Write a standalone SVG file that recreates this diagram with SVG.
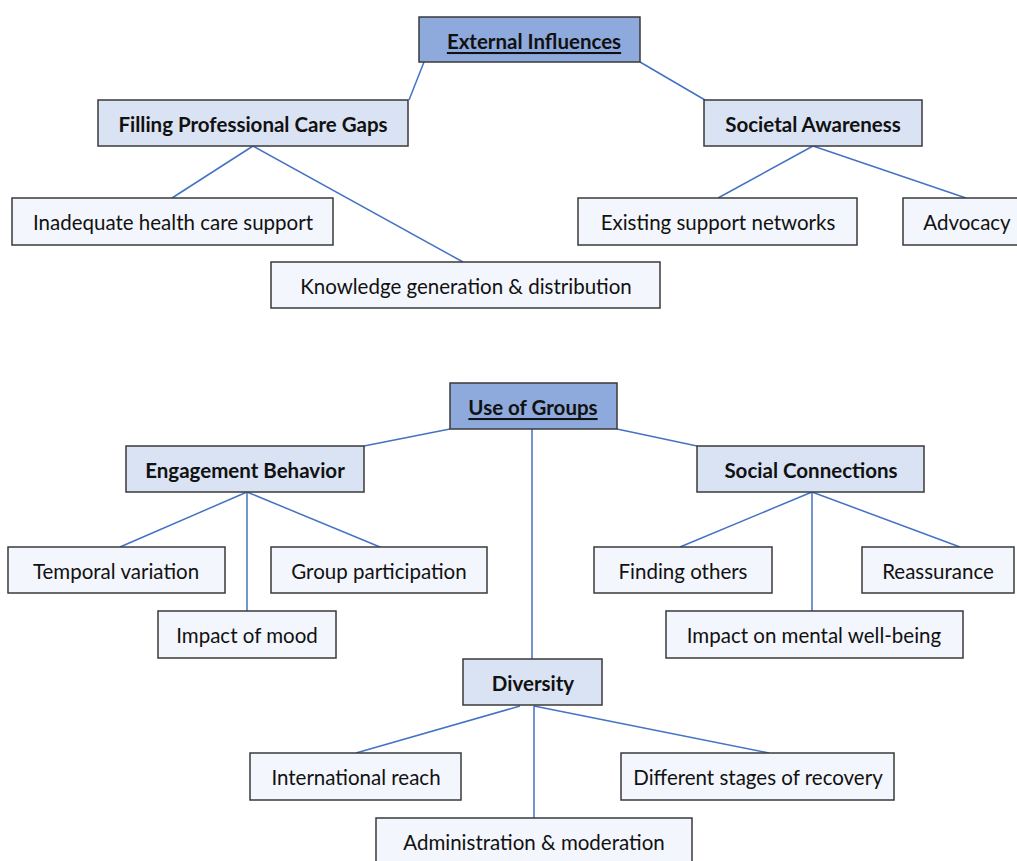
<svg xmlns="http://www.w3.org/2000/svg" width="1017" height="861" viewBox="0 0 1017 861">
<style>
  .box { stroke: #3a3a3a; stroke-width: 1.5; }
  .hd { fill: #8eaadc; }
  .md { fill: #dae3f3; }
  .lf { fill: #f3f6fc; }
  text { font-family: Lato, "Open Sans", "Liberation Sans", sans-serif; font-size: 20.5px; fill: #111; text-anchor: middle; dominant-baseline: central; }
  .b { font-weight: bold; font-size: 20.5px; }
  .u { text-decoration: underline; }
  #connectors line { stroke: #4472c4; stroke-width: 1.5; }
</style>
<rect x="0" y="0" width="1017" height="861" fill="#ffffff"/>
<g id="connectors">
  <line x1="424" y1="62" x2="409" y2="100"/>
  <line x1="640" y1="62" x2="705" y2="100"/>
  <line x1="253" y1="146" x2="172" y2="198"/>
  <line x1="253" y1="146" x2="463" y2="262"/>
  <line x1="813" y1="146" x2="718" y2="198"/>
  <line x1="813" y1="146" x2="966" y2="198"/>
  <line x1="450" y1="429" x2="364" y2="446"/>
  <line x1="617" y1="429" x2="697" y2="446"/>
  <line x1="532" y1="429" x2="532" y2="659"/>
  <line x1="247" y1="492" x2="120" y2="547"/>
  <line x1="247" y1="492" x2="247" y2="611"/>
  <line x1="247" y1="492" x2="380" y2="547"/>
  <line x1="812" y1="492" x2="680" y2="547"/>
  <line x1="812" y1="492" x2="812" y2="611"/>
  <line x1="812" y1="492" x2="960" y2="547"/>
  <line x1="520" y1="706" x2="356" y2="753"/>
  <line x1="534" y1="706" x2="769" y2="753"/>
  <line x1="534" y1="706" x2="534" y2="818"/>
</g>
<g id="external-influences"><rect class="box hd" x="419" y="17" width="221" height="45"/><text class="b u" x="534" y="41">External Influences</text></g>
<g id="filling-gaps"><rect class="box md" x="98" y="100" width="310" height="46"/><text class="b" x="253" y="124">Filling Professional Care Gaps</text></g>
<g id="societal-awareness"><rect class="box md" x="704" y="100" width="218" height="46"/><text class="b" x="813" y="124">Societal Awareness</text></g>
<g id="inadequate"><rect class="box lf" x="12" y="198" width="321" height="47"/><text x="173" y="222">Inadequate  health care support</text></g>
<g id="knowledge"><rect class="box lf" x="271" y="262" width="389" height="46"/><text x="466" y="286">Knowledge  generation &amp; distribution</text></g>
<g id="existing-networks"><rect class="box lf" x="578" y="198" width="279" height="47"/><text x="718" y="222">Existing support  networks</text></g>
<g id="advocacy"><rect class="box lf" x="903" y="198" width="120" height="47"/><text x="967" y="222">Advocacy</text></g>
<g id="use-of-groups"><rect class="box hd" x="450" y="383" width="167" height="46"/><text class="b u" x="533" y="407">Use of Groups</text></g>
<g id="engagement"><rect class="box md" x="126" y="446" width="238" height="46"/><text class="b" x="245" y="470">Engagement Behavior</text></g>
<g id="social-connections"><rect class="box md" x="697" y="446" width="227" height="46"/><text class="b" x="811" y="470">Social Connections</text></g>
<g id="temporal"><rect class="box lf" x="8" y="547" width="217" height="46"/><text x="116" y="571">Temporal variation</text></g>
<g id="group-participation"><rect class="box lf" x="271" y="547" width="216" height="46"/><text x="379" y="571">Group participation</text></g>
<g id="impact-mood"><rect class="box lf" x="158" y="611" width="178" height="47"/><text x="247" y="635">Impact of mood</text></g>
<g id="finding-others"><rect class="box lf" x="594" y="547" width="178" height="46"/><text x="683" y="571">Finding others</text></g>
<g id="reassurance"><rect class="box lf" x="862" y="547" width="152" height="46"/><text x="938" y="571">Reassurance</text></g>
<g id="impact-mental"><rect class="box lf" x="666" y="611" width="297" height="47"/><text x="814" y="635">Impact on mental well-being</text></g>
<g id="diversity"><rect class="box md" x="463" y="659" width="139" height="46"/><text class="b" x="533" y="683">Diversity</text></g>
<g id="international"><rect class="box lf" x="250" y="753" width="211" height="47"/><text x="356" y="777">International reach</text></g>
<g id="stages"><rect class="box lf" x="621" y="753" width="273" height="47"/><text x="758" y="777">Different stages of recovery</text></g>
<g id="administration"><rect class="box lf" x="376" y="818" width="316" height="50"/><text x="534" y="842">Administration &amp; moderation</text></g>
</svg>
